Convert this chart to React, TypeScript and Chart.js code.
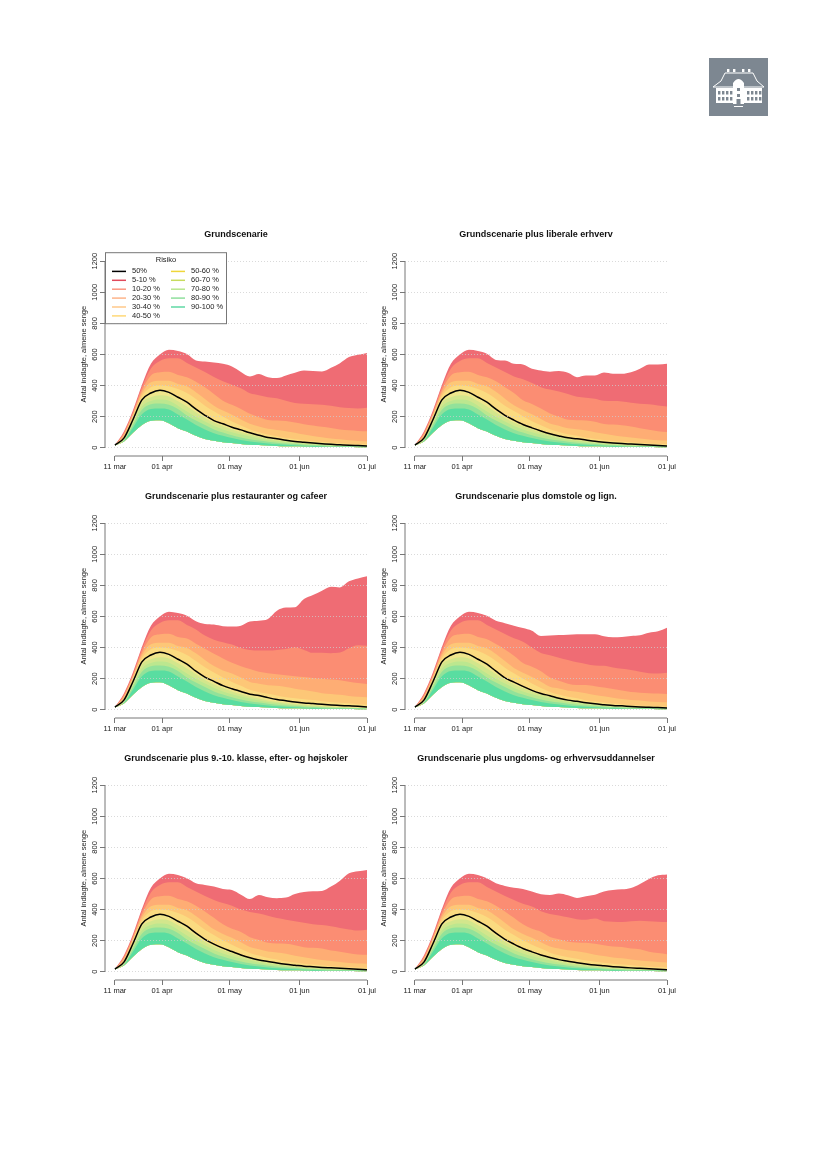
import React, { useEffect, useRef } from "react";
import { Chart, registerables } from "chart.js";

Chart.register(...registerables);

const FONT = "'Liberation Sans', Arial, sans-serif";
const TEXT = "#222222";
const AXIS = "#777777";

// days since 11 mar, one reading every 4 days
const days = [0, 4, 8, 12, 16, 20, 24, 28, 32, 36, 40, 44, 48, 52, 56, 60, 64, 68, 72, 76, 80, 84, 88, 92, 96, 100, 104, 108, 112];
const xTickDays = [0, 21, 51, 82, 112];
const xTickLabels = ["11 mar", "01 apr", "01 may", "01 jun", "01 jul"];
const yTicks = [0, 200, 400, 600, 800, 1000, 1200];

// lower quantiles look the same in all six panels
const q60 = [17, 55, 172, 290, 325, 338, 330, 299, 265, 229, 192, 162, 138, 118, 100, 85, 73, 60, 52, 44, 37, 32, 27, 23, 20, 17, 14, 12, 9];
const q70 = [16, 50, 160, 265, 300, 310, 303, 271, 233, 199, 169, 140, 118, 100, 85, 72, 60, 50, 43, 36, 30, 26, 22, 19, 16, 14, 12, 10, 8];
const q80 = [16, 46, 145, 245, 280, 285, 277, 250, 207, 175, 147, 118, 98, 80, 66, 55, 46, 39, 33, 28, 24, 20, 17, 15, 13, 11, 9, 8, 7];
const q90 = [16, 43, 128, 215, 250, 252, 246, 214, 182, 147, 118, 94, 77, 62, 50, 41, 34, 28, 23, 19, 16, 13, 11, 10, 8, 7, 6, 6, 5];
const q100 = [15, 40, 96, 147, 173, 177, 158, 126, 105, 77, 56, 45, 36, 30, 24, 19, 17, 15, 12, 10, 9, 8, 7, 6, 6, 5, 5, 4, 4];

// Grundscenarie
const a5 = [17, 105, 240, 404, 540, 600, 630, 622, 603, 562, 555, 549, 540, 523, 488, 459, 474, 453, 448, 465, 482, 497, 493, 490, 514, 544, 583, 598, 610];
const a10 = [17, 96, 228, 389, 510, 558, 575, 575, 545, 517, 487, 455, 428, 405, 382, 350, 338, 325, 318, 302, 288, 283, 280, 277, 270, 261, 255, 253, 257];
const a20 = [17, 88, 218, 368, 464, 485, 489, 468, 453, 425, 389, 346, 303, 276, 250, 218, 197, 179, 175, 172, 162, 152, 143, 135, 127, 118, 112, 108, 106];
const a30 = [17, 79, 209, 350, 421, 431, 431, 410, 395, 357, 314, 271, 239, 212, 182, 154, 137, 122, 115, 107, 96, 85, 76, 68, 60, 54, 48, 44, 40];
const a40 = [17, 70, 199, 331, 389, 400, 395, 378, 353, 314, 271, 235, 201, 169, 143, 118, 100, 85, 74, 62, 55, 48, 42, 38, 33, 29, 26, 24, 22];
const a50 = [17, 62, 180, 308, 352, 370, 356, 325, 293, 248, 209, 175, 154, 132, 115, 96, 81, 66, 58, 48, 40, 35, 30, 26, 22, 19, 16, 14, 12];

// plus liberale erhverv
const b5 = [17, 105, 240, 404, 540, 600, 630, 622, 604, 565, 561, 540, 536, 508, 497, 489, 493, 482, 454, 465, 465, 484, 476, 476, 486, 508, 536, 536, 540];
const b10 = [17, 96, 228, 389, 510, 558, 575, 575, 545, 517, 487, 458, 440, 416, 390, 374, 362, 345, 328, 322, 316, 302, 300, 298, 290, 283, 280, 272, 265];
const b20 = [17, 88, 218, 368, 464, 485, 489, 468, 453, 428, 390, 352, 305, 281, 252, 220, 199, 180, 177, 175, 168, 153, 149, 144, 137, 126, 116, 107, 101];
const b30 = [17, 79, 209, 350, 421, 431, 431, 410, 395, 360, 316, 273, 243, 215, 185, 156, 142, 125, 119, 111, 100, 90, 80, 72, 66, 59, 53, 48, 46];
const b40 = [17, 70, 199, 331, 389, 400, 395, 378, 353, 314, 271, 236, 203, 171, 145, 119, 102, 87, 77, 64, 57, 50, 44, 40, 35, 31, 28, 26, 24];
const b50 = [17, 62, 180, 308, 352, 370, 356, 325, 293, 248, 209, 178, 150, 128, 108, 90, 76, 64, 58, 50, 42, 36, 31, 27, 24, 21, 18, 15, 12];

// plus restauranter og cafeer
const c5 = [17, 105, 240, 404, 540, 600, 630, 622, 605, 569, 552, 548, 537, 535, 541, 567, 573, 584, 637, 657, 659, 712, 738, 766, 791, 787, 826, 845, 858];
const c10 = [17, 96, 228, 389, 510, 558, 575, 575, 545, 517, 477, 451, 434, 419, 398, 385, 381, 381, 385, 391, 402, 385, 366, 366, 364, 368, 396, 415, 411];
const c20 = [17, 88, 218, 368, 464, 485, 489, 468, 458, 425, 392, 360, 330, 302, 280, 262, 245, 235, 228, 222, 216, 210, 205, 200, 195, 190, 180, 172, 165];
const c30 = [17, 79, 209, 350, 421, 431, 431, 410, 398, 363, 320, 281, 253, 233, 207, 178, 167, 158, 154, 146, 135, 127, 117, 107, 101, 96, 89, 83, 80];
const c40 = [17, 70, 199, 331, 389, 400, 395, 378, 353, 314, 274, 240, 208, 179, 155, 128, 113, 103, 92, 80, 74, 68, 62, 55, 50, 45, 42, 36, 34];
const c50 = [17, 62, 180, 308, 352, 370, 356, 325, 293, 248, 210, 183, 155, 135, 118, 100, 92, 78, 66, 58, 50, 44, 40, 35, 31, 28, 25, 22, 18];

// plus domstole og lign.
const d5 = [17, 105, 240, 404, 540, 600, 630, 622, 604, 572, 557, 541, 526, 509, 475, 477, 481, 483, 486, 486, 486, 473, 466, 468, 475, 479, 496, 505, 528];
const d10 = [17, 96, 228, 389, 510, 558, 575, 575, 545, 517, 487, 460, 438, 400, 365, 350, 335, 320, 305, 295, 285, 283, 272, 263, 255, 245, 235, 233, 238];
const d20 = [17, 88, 218, 368, 464, 485, 489, 468, 453, 423, 388, 347, 300, 276, 247, 207, 187, 168, 160, 160, 152, 143, 133, 124, 114, 110, 106, 104, 102];
const d30 = [17, 79, 209, 350, 421, 431, 431, 410, 395, 358, 313, 269, 238, 211, 180, 148, 137, 123, 116, 106, 95, 87, 78, 70, 63, 59, 53, 50, 48];
const d40 = [17, 70, 199, 331, 389, 400, 395, 378, 353, 314, 271, 235, 201, 169, 140, 115, 98, 83, 74, 60, 53, 46, 40, 36, 30, 27, 25, 23, 20];
const d50 = [17, 62, 180, 308, 352, 370, 356, 325, 293, 248, 205, 178, 150, 125, 105, 90, 74, 62, 54, 45, 38, 33, 28, 25, 21, 18, 16, 14, 12];

// plus 9.-10. klasse, efter- og hojskoler
const e5 = [17, 105, 240, 404, 540, 600, 630, 622, 601, 569, 558, 548, 533, 526, 496, 468, 494, 479, 473, 477, 500, 513, 518, 520, 548, 586, 633, 646, 655];
const e10 = [17, 96, 228, 389, 510, 558, 575, 575, 545, 517, 487, 462, 442, 425, 400, 385, 375, 360, 345, 335, 325, 315, 305, 300, 292, 282, 272, 265, 270];
const e20 = [17, 88, 218, 368, 464, 485, 489, 468, 453, 425, 388, 347, 305, 276, 255, 222, 205, 186, 181, 180, 170, 158, 154, 149, 136, 129, 119, 111, 109];
const e30 = [17, 79, 209, 350, 421, 431, 431, 410, 395, 358, 316, 273, 243, 218, 190, 160, 145, 131, 124, 116, 103, 94, 84, 76, 69, 63, 57, 53, 52];
const e40 = [17, 70, 199, 331, 389, 400, 395, 378, 353, 314, 271, 236, 203, 174, 147, 121, 104, 89, 79, 66, 59, 52, 46, 42, 36, 33, 29, 27, 25];
const e50 = [17, 62, 180, 308, 352, 370, 356, 325, 293, 248, 209, 178, 152, 130, 108, 90, 76, 66, 56, 48, 42, 36, 32, 28, 25, 22, 19, 16, 13];

// plus ungdoms- og erhvervsuddannelser
const f5 = [17, 105, 240, 404, 540, 600, 630, 622, 601, 569, 552, 540, 533, 516, 499, 494, 503, 492, 475, 486, 496, 516, 526, 530, 539, 565, 597, 620, 625];
const f10 = [17, 96, 228, 389, 510, 558, 575, 575, 545, 517, 487, 462, 438, 420, 390, 372, 362, 350, 338, 335, 342, 325, 322, 320, 325, 328, 325, 322, 320];
const f20 = [17, 88, 218, 368, 464, 485, 489, 468, 453, 425, 388, 347, 305, 276, 257, 224, 209, 193, 189, 187, 180, 171, 163, 159, 149, 144, 129, 121, 113];
const f30 = [17, 79, 209, 350, 421, 431, 431, 410, 395, 358, 316, 273, 243, 218, 190, 163, 149, 138, 132, 123, 110, 102, 92, 87, 79, 73, 67, 63, 60];
const f40 = [17, 70, 199, 331, 389, 400, 395, 378, 353, 314, 271, 236, 203, 174, 149, 123, 106, 93, 84, 72, 65, 58, 52, 46, 42, 37, 33, 30, 28];
const f50 = [17, 62, 180, 308, 352, 370, 356, 325, 293, 248, 209, 178, 150, 128, 108, 92, 78, 68, 58, 50, 43, 38, 33, 29, 25, 22, 19, 16, 13];

const titles = [
    "Grundscenarie",
    "Grundscenarie plus liberale erhverv",
    "Grundscenarie plus restauranter og cafeer",
    "Grundscenarie plus domstole og lign.",
    "Grundscenarie plus 9.-10. klasse, efter- og højskoler",
    "Grundscenarie plus ungdoms- og erhvervsuddannelser",
];
const upper = [
    [a5, a10, a20, a30, a40, a50],
    [b5, b10, b20, b30, b40, b50],
    [c5, c10, c20, c30, c40, c50],
    [d5, d10, d20, d30, d40, d50],
    [e5, e10, e20, e30, e40, e50],
    [f5, f10, f20, f30, f40, f50],
];

const bandLabels = ["5-10 %", "10-20 %", "20-30 %", "30-40 %", "40-50 %", "50-60 %", "60-70 %", "70-80 %", "80-90 %", "90-100 %"];
const bandColors = ["#EF6C74", "#FB8D73", "#FEAD74", "#FDC777", "#FBDB80", "#EFE68C", "#D3E68C", "#BCE78F", "#92E29A", "#59DDA1"];
const legendColors = ["#E04A5C", "#FB9580", "#FDB48A", "#FFC98A", "#FFD978", "#EFD63A", "#C7DB5E", "#B8E68D", "#8FDF9C", "#5FD9A5"];

const axesPlugin = {
    id: "rAxes",
    afterDraw(chart: any) {
        const { ctx, chartArea, scales } = chart;
        const x = scales.x;
        const y = scales.y;
        ctx.save();
        ctx.strokeStyle = AXIS;
        ctx.lineWidth = 1;
        ctx.beginPath();
        ctx.moveTo(chartArea.left, y.getPixelForValue(0));
        ctx.lineTo(chartArea.left, y.getPixelForValue(1200));
        ctx.moveTo(x.getPixelForValue(0), chartArea.bottom);
        ctx.lineTo(x.getPixelForValue(112), chartArea.bottom);
        ctx.stroke();
        // y title sits a bit above the centre of the plot box
        ctx.translate(18, chartArea.top + 93);
        ctx.rotate(-Math.PI / 2);
        ctx.fillStyle = TEXT;
        ctx.font = `7.5px ${FONT}`;
        ctx.textAlign = "center";
        ctx.textBaseline = "middle";
        ctx.fillText("Antal indlagte, almene senge", 0, 0);
        ctx.restore();
    },
};

const legendPlugin = {
    id: "riskLegend",
    afterDraw(chart: any) {
        const { ctx, chartArea } = chart;
        const left = chartArea.left + 0.5;
        const top = chartArea.top - 8.5;
        ctx.save();
        ctx.fillStyle = "#ffffff";
        ctx.strokeStyle = AXIS;
        ctx.lineWidth = 1;
        ctx.fillRect(left, top, 121, 71);
        ctx.strokeRect(left, top, 121, 71);
        ctx.font = `7.5px ${FONT}`;
        ctx.textBaseline = "middle";
        ctx.fillStyle = TEXT;
        ctx.textAlign = "center";
        ctx.fillText("Risiko", left + 60.5, top + 7.5);
        ctx.textAlign = "left";
        const items = [
            { label: "50%", color: "#000000" },
            ...bandLabels.map((label, i) => ({ label, color: legendColors[i] })),
        ];
        items.forEach((item, i) => {
            const col = i < 6 ? 0 : 1;
            const row = i < 6 ? i : i - 6;
            const lx = left + 6.5 + col * 59;
            const ly = top + 18.7 + row * 8.9;
            ctx.strokeStyle = item.color;
            ctx.lineWidth = 1.5;
            ctx.beginPath();
            ctx.moveTo(lx, ly);
            ctx.lineTo(lx + 14, ly);
            ctx.stroke();
            ctx.fillStyle = TEXT;
            ctx.fillText(item.label, lx + 20, ly);
        });
        ctx.restore();
    },
};

function Panel({ index }: { index: number }) {
    const ref = useRef<HTMLCanvasElement | null>(null);

    useEffect(() => {
        if (!ref.current) return;
        const [s5, s10, s20, s30, s40, s50] = upper[index];
        const tops = [s5, s10, s20, s30, s40, s50, q60, q70, q80, q90];
        const toPoints = (values: number[]) => values.map((v, i) => ({ x: days[i], y: v }));
        const base = { pointRadius: 0, borderWidth: 0, cubicInterpolationMode: "monotone" as const };

        // painted from the last dataset to the first, so the top band goes down first
        const bands = tops
            .map((values, i) => ({
                ...base,
                label: bandLabels[i],
                data: toPoints(values),
                backgroundColor: bandColors[i],
                borderColor: bandColors[i],
                fill: 1,
            }))
            .reverse();

        const chart = new Chart(ref.current, {
            type: "line",
            data: {
                datasets: [
                    { ...base, label: "50%", data: toPoints(s50), borderColor: "#000000", borderWidth: 1.5, fill: false },
                    { ...base, label: "100%", data: toPoints(q100), fill: false },
                    ...bands,
                ],
            },
            options: {
                responsive: false,
                animation: false,
                devicePixelRatio: 1,
                events: [],
                plugins: {
                    legend: { display: false },
                    tooltip: { enabled: false },
                    title: {
                        display: true,
                        text: titles[index],
                        color: "#111111",
                        font: { family: FONT, size: 9, weight: "bold" },
                        padding: { top: 14.6, bottom: 20.8 },
                    },
                },
                scales: {
                    x: {
                        type: "linear",
                        min: -4.4,
                        max: 112,
                        border: { display: false },
                        grid: { drawOnChartArea: false, drawTicks: true, tickLength: 5, tickColor: AXIS },
                        afterBuildTicks: (s: any) => {
                            s.ticks = xTickDays.map((value) => ({ value }));
                        },
                        afterFit: (s: any) => {
                            s.height = 25;
                        },
                        ticks: {
                            autoSkip: false,
                            maxRotation: 0,
                            padding: 1,
                            color: TEXT,
                            font: { family: FONT, size: 7.5 },
                            callback: (v: any) => xTickLabels[xTickDays.indexOf(Number(v))],
                        },
                    },
                    y: {
                        min: -53,
                        max: 1200,
                        border: { display: false, dash: [1, 2] },
                        grid: {
                            z: 1,
                            color: "rgba(205,205,205,0.75)",
                            lineWidth: 1,
                            tickLength: 5,
                            tickColor: AXIS,
                            tickBorderDash: [],
                        },
                        afterBuildTicks: (s: any) => {
                            s.ticks = yTicks.map((value) => ({ value }));
                        },
                        afterFit: (s: any) => {
                            s.width = 39;
                        },
                        ticks: {
                            autoSkip: false,
                            minRotation: 90,
                            maxRotation: 90,
                            crossAlign: "center",
                            padding: -3,
                            color: TEXT,
                            font: { family: FONT, size: 7.5 },
                            callback: (v: any) => String(v),
                        },
                    },
                    // empty axis on the right, keeps the title centred over the plot box
                    spacer: {
                        position: "right",
                        border: { display: false },
                        grid: { display: false },
                        ticks: { display: false },
                        afterFit: (s: any) => {
                            s.width = 39;
                        },
                    },
                },
            } as any,
            plugins: index === 0 ? [axesPlugin, legendPlugin] : [axesPlugin],
        } as any);

        return () => chart.destroy();
    }, [index]);

    const col = index % 2;
    const row = Math.floor(index / 2);
    return (
        <canvas
            ref={ref}
            width={340}
            height={266}
            style={{ position: "absolute", left: 66 + col * 300, top: 214.5 + row * 262 }}
        />
    );
}

function Logo() {
    const wins = [9, 13, 17, 21, 38, 42, 46, 50];
    return (
        <svg width={59} height={58} viewBox="0 0 59 58" style={{ position: "absolute", left: 709, top: 58 }}>
            <rect width={59} height={58} fill="#7D8791" />
            <g fill="#ffffff">
                {[19, 25, 34, 40].map((x) => (
                    <rect key={x} x={x - 1} y={11} width={2.4} height={3} />
                ))}
                <rect x={7} y={30} width={46} height={15} />
                <rect x={24} y={25} width={11} height={21} />
                <rect x={25} y={48} width={9} height={1} />
            </g>
            <path d="M4 29 L12 23 L16 15 H44 L48 23 L55 29 Z" fill="none" stroke="#ffffff" strokeWidth={1} />
            <path d="M24 25 Q29.5 17 35 25" fill="#ffffff" />
            <g fill="#7D8791">
                {wins.map((x) => (
                    <g key={x}>
                        <rect x={x} y={33} width={2.4} height={3.5} />
                        <rect x={x} y={39} width={2.4} height={3.5} />
                    </g>
                ))}
                <rect x={28} y={30} width={3} height={3} />
                <rect x={28} y={36} width={3} height={3} />
                <rect x={27.5} y={41} width={4} height={5} />
            </g>
        </svg>
    );
}

export default function App() {
    return (
        <div style={{ position: "absolute", left: 0, top: 0, width: 827, height: 1169, background: "#ffffff" }}>
            <Logo />
            {titles.map((_, i) => (
                <Panel key={i} index={i} />
            ))}
        </div>
    );
}
